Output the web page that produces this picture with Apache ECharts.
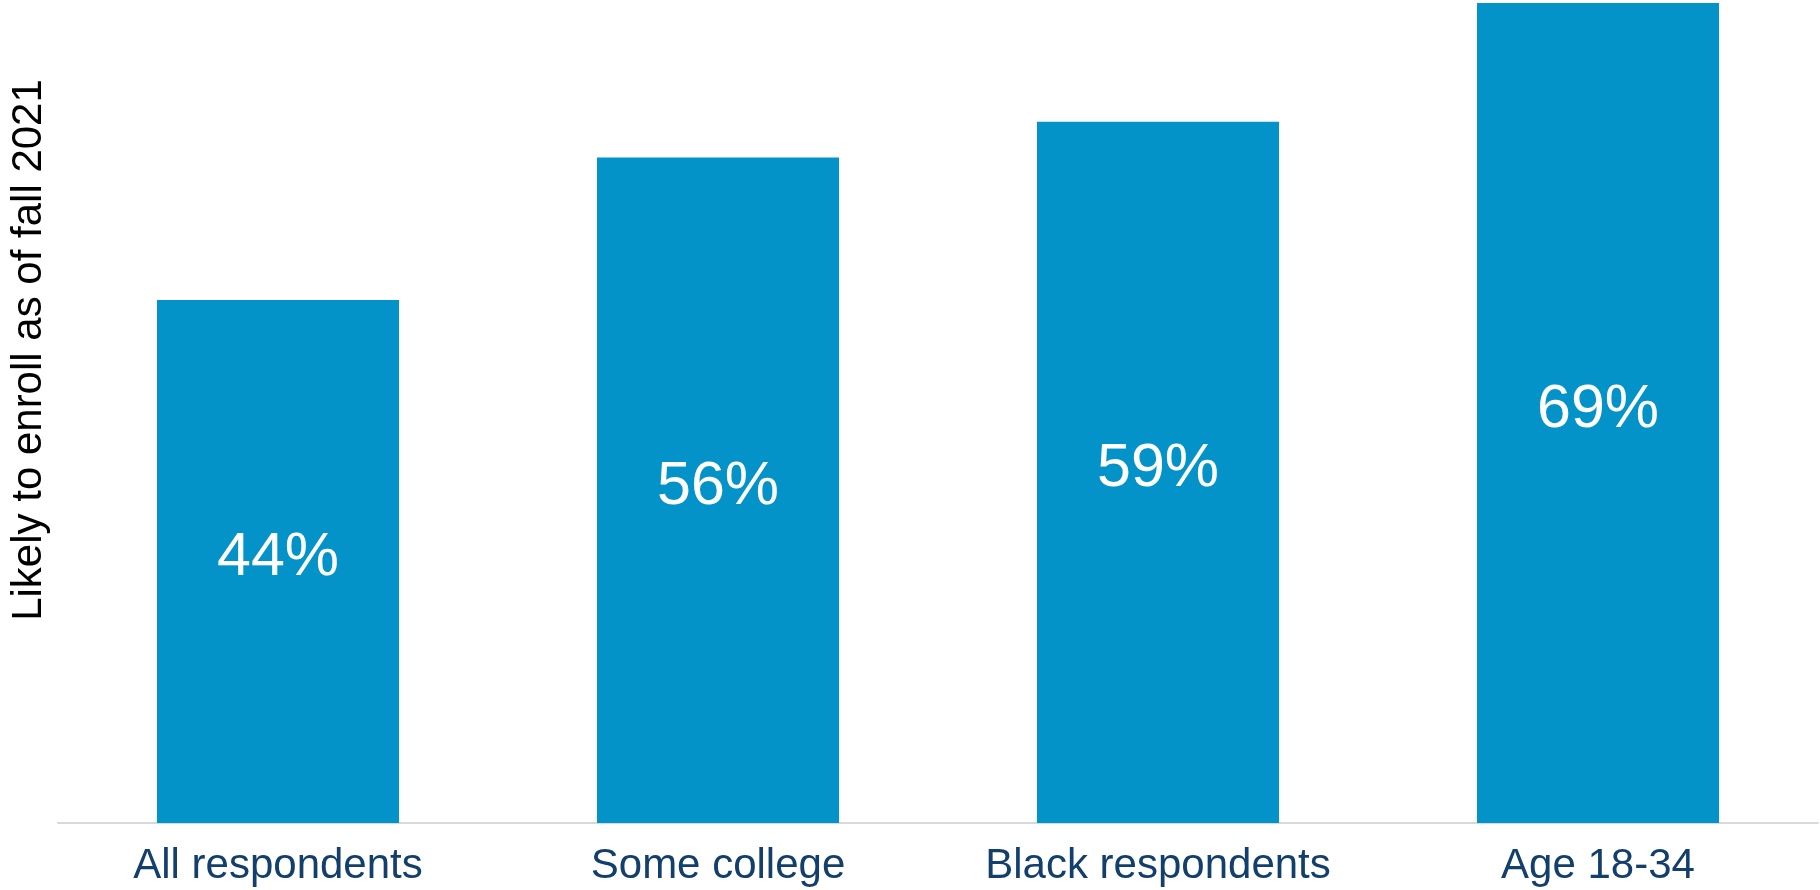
<!DOCTYPE html>
<html>
<head>
<meta charset="utf-8">
<style>
  html, body { margin: 0; padding: 0; background: #fff; }
  #chart { width: 1820px; height: 890px; }
</style>
<script src="https://cdn.jsdelivr.net/npm/echarts@6/dist/echarts.min.js"></script>
</head>
<body>
<div id="chart"></div>
<script>
const categories = ['All respondents', 'Some college', 'Black respondents', 'Age 18-34'];
const values = [44, 56, 59, 69];
const yAxisName = 'Likely to enroll as of fall 2021';

const chart = echarts.init(document.getElementById('chart'));

const option = {
  animation: false,
  grid: {
    left: 54,
    right: 2,
    top: 3,
    bottom: 67
  },
  xAxis: {
    type: 'category',
    data: categories,
    axisLine: {
      lineStyle: { color: '#d9d9d9', width: 2 }
    },
    axisTick: { show: false },
    axisLabel: {
      interval: 0,
      color: '#133f6c',
      fontFamily: 'Liberation Sans',
      fontSize: 42,
      margin: 22
    }
  },
  yAxis: {
    type: 'value',
    min: 0,
    max: Math.max(...values),
    name: yAxisName,
    nameLocation: 'middle',
    nameGap: 8,
    nameTextStyle: {
      color: '#000',
      fontFamily: 'Liberation Sans',
      fontSize: 42,
      padding: [0, 0, 0, 126]
    },
    axisLine: { show: false },
    axisTick: { show: false },
    axisLabel: { show: false },
    splitLine: { show: false }
  },
  series: [
    {
      type: 'bar',
      data: values,
      barCategoryGap: '45%',
      itemStyle: { color: '#0393c9' },
      label: {
        show: true,
        position: 'inside',
        formatter: '{c}%',
        color: '#fff',
        fontFamily: 'Liberation Sans',
        fontSize: 61,
        offset: [0, -3]
      }
    }
  ]
};

chart.setOption(option);
window.addEventListener('resize', () => chart.resize());
</script>
</body>
</html>
